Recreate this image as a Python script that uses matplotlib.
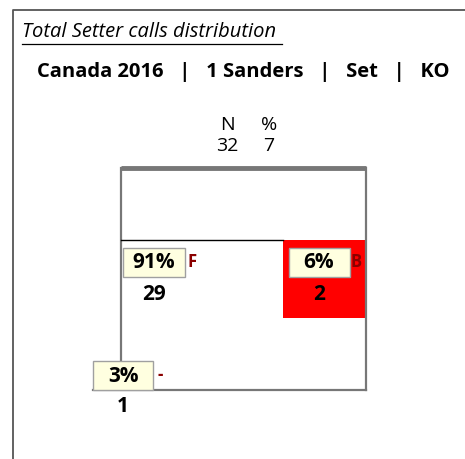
import matplotlib
matplotlib.use("Agg")
import matplotlib.pyplot as plt
from matplotlib.patches import Rectangle

plt.rcParams['font.family'] = ['Open Sans', 'DejaVu Sans']

# setter call distribution
title = "Total Setter calls distribution"
subtitle = "Canada 2016   |   1 Sanders   |   Set   |   KO"
total_n = 32
total_pct = 7
zones = ["F", "B", "-"]
pcts = [91, 6, 3]
counts = [29, 2, 1]
hot_zone = "B"

W, H = 465, 459
fig = plt.figure(figsize=(W / 100, H / 100), dpi=100)
ax = fig.add_axes([0, 0, 1, 1])
ax.set_xlim(0, W)
ax.set_ylim(H, 0)
ax.axis("off")

# outer frame
ax.plot([13, 13, W], [H, 10, 10], color="#555555", lw=1.3, solid_capstyle="butt")

ax.text(22, 32, title, fontsize=14.5, style="italic", ha="left", va="center")
ax.plot([22, 282], [43.5, 43.5], color="black", lw=0.9)
ax.text(243, 72, subtitle, fontsize=14.5, fontweight="bold", ha="center", va="center")

ax.text(227, 125, "N", fontsize=14, ha="center", va="center")
ax.text(269, 125, "%", fontsize=14, ha="center", va="center")
ax.text(227, 146, str(total_n), fontsize=14, ha="center", va="center")
ax.text(269, 146, str(total_pct), fontsize=14, ha="center", va="center")

# court
left, right, top, net, bottom = 121, 366, 168, 240, 390
anchors = {"F": (121, 240, 245, 78), "B": (283, 240, 83, 78), "-": (121, 390, 0, 0)}

x0, y0, w, h = anchors[hot_zone]
ax.add_patch(Rectangle((x0, y0), w, h, facecolor="#ff0000", edgecolor="none", zorder=1))

gray = "#777777"
ax.plot([left, right], [top, top], color=gray, lw=3.5, solid_capstyle="butt", zorder=2)
ax.plot([left, left], [top, 361], color=gray, lw=1.6, zorder=2)
ax.plot([right, right], [top, bottom], color=gray, lw=1.6, zorder=2)
ax.plot([93, right], [bottom, bottom], color=gray, lw=1.6, zorder=2)
ax.plot([left, 283], [net, net], color="black", lw=1.0, zorder=2)

# label positions for each zone: box centre, box width
label_pos = {"F": (154, 262, 62), "B": (319, 262, 61), "-": (123, 375, 60)}
for z, p, c in zip(zones, pcts, counts):
    cx, cy, bw = label_pos[z]
    ax.add_patch(Rectangle((cx - bw / 2, cy - 14.5), bw, 29, facecolor="#ffffe0",
                           edgecolor="#a0a0a0", lw=1.0, zorder=3))
    ax.text(cx, cy + 1, f"{p}%", fontsize=15, fontweight="bold", ha="center",
            va="center", zorder=4)
    ax.text(cx + bw / 2 + 7, cy, z, fontsize=12, fontweight="bold", color="#8b0000",
            ha="center", va="center", zorder=4)
    ax.text(cx, cy + 32, str(c), fontsize=15, fontweight="bold", ha="center",
            va="center", zorder=4)

fig.savefig("out.png", dpi=100)
